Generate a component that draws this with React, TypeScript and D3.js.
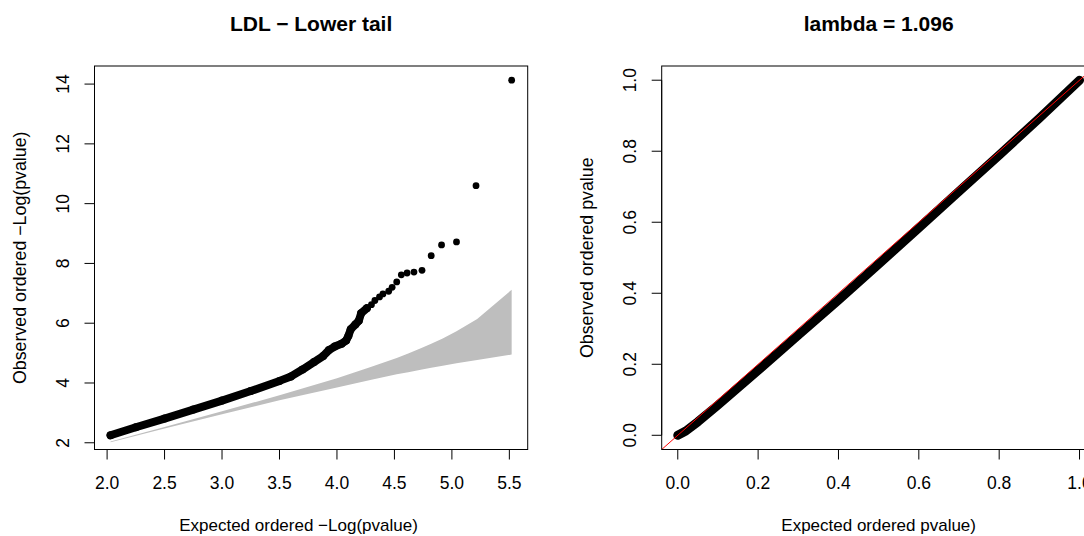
import React from "react";
import * as d3 from "d3";

// ---------- Left panel: LDL lower tail QQ (-log10 p) ----------
// dense part of observed points (drawn as a ribbon of overlapping dots)
const ldlDenseX = [2.03, 2.25, 2.5, 2.75, 3.0, 3.25, 3.5, 3.6, 3.7, 3.8, 3.88, 3.93, 3.98, 4.04, 4.08, 4.1, 4.12, 4.16, 4.19, 4.21, 4.26];
const ldlDenseY = [2.25, 2.52, 2.81, 3.11, 3.41, 3.73, 4.07, 4.22, 4.45, 4.7, 4.9, 5.1, 5.22, 5.31, 5.42, 5.58, 5.8, 5.96, 6.08, 6.33, 6.5];
// sparse observed points in the tail
const ldlTailX = [4.3, 4.33, 4.37, 4.4, 4.45, 4.48, 4.52, 4.56, 4.61, 4.67, 4.74, 4.82, 4.91, 5.04, 5.21, 5.52];
const ldlTailY = [6.62, 6.76, 6.88, 6.98, 7.07, 7.2, 7.38, 7.62, 7.68, 7.71, 7.77, 8.26, 8.62, 8.72, 10.6, 14.13];
// grey confidence band
const ciX = [2.03, 2.5, 3.0, 3.5, 4.0, 4.3, 4.52, 4.62, 4.74, 4.82, 4.92, 5.04, 5.22, 5.52];
const ciUpper = [2.046, 2.527, 3.052, 3.59, 4.16, 4.54, 4.84, 4.99, 5.18, 5.31, 5.49, 5.73, 6.14, 7.12];
const ciLower = [2.015, 2.474, 2.955, 3.42, 3.85, 4.11, 4.29, 4.36, 4.45, 4.51, 4.58, 4.66, 4.77, 4.95];
const ldlXTicks = [2.0, 2.5, 3.0, 3.5, 4.0, 4.5, 5.0, 5.5];
const ldlYTicks = [2, 4, 6, 8, 10, 12, 14];

// ---------- Right panel: p-value QQ ----------
const pExpected = [0, 0.02, 0.05, 0.1, 0.2, 0.3, 0.4, 0.5, 0.6, 0.7, 0.8, 0.9, 1.0];
const pObserved = [0, 0.012, 0.038, 0.085, 0.183, 0.282, 0.381, 0.482, 0.584, 0.687, 0.789, 0.893, 1.0];
const pTicks = [0, 0.2, 0.4, 0.6, 0.8, 1.0];

const leftTitle = "LDL \u2212 Lower tail";
const rightTitle = "lambda = 1.096";
const leftXLab = "Expected ordered \u2212Log(pvalue)";
const leftYLab = "Observed ordered \u2212Log(pvalue)";
const rightXLab = "Expected ordered pvalue)";
const rightYLab = "Observed ordered pvalue";

const FONT = "'Liberation Sans', Arial, Helvetica, sans-serif";
const W = 1084;
const H = 536;

function rRange(vals: number[]): [number, number] {
  const mn = d3.min(vals) as number;
  const mx = d3.max(vals) as number;
  const r = mx - mn;
  return [mn - 0.04 * r, mx + 0.04 * r];
}

type Box = { x0: number; x1: number; y0: number; y1: number };

function Axes({ box, xs, ys, xTicks, yTicks, xFmt, yFmt }: any) {
  const b: Box = box;
  return (
    <g>
      <rect x={b.x0} y={b.y0} width={b.x1 - b.x0} height={b.y1 - b.y0} fill="none" stroke="#000" strokeWidth={1} />
      {xTicks.map((t: number) => (
        <g key={"x" + t}>
          <line x1={xs(t)} x2={xs(t)} y1={b.y1} y2={b.y1 + 10} stroke="#000" />
          <text x={xs(t)} y={b.y1 + 33.5} dy="0.35em" textAnchor="middle" fontSize={17.5} fontFamily={FONT}>
            {xFmt(t)}
          </text>
        </g>
      ))}
      <line x1={xs(xTicks[0])} x2={xs(xTicks[xTicks.length - 1])} y1={b.y1} y2={b.y1} stroke="#000" />
      {yTicks.map((t: number) => (
        <g key={"y" + t}>
          <line x1={b.x0 - 10} x2={b.x0} y1={ys(t)} y2={ys(t)} stroke="#000" />
          <text
            transform={`translate(${b.x0 - 31.7},${ys(t)}) rotate(-90)`}
            dy="0.35em"
            textAnchor="middle"
            fontSize={17.5}
            fontFamily={FONT}
          >
            {yFmt(t)}
          </text>
        </g>
      ))}
      <line x1={b.x0} x2={b.x0} y1={ys(yTicks[0])} y2={ys(yTicks[yTicks.length - 1])} stroke="#000" />
    </g>
  );
}

export default function App() {
  const top = 66;
  const bottom = 449.5;
  const LB: Box = { x0: 94.5, x1: 527.7, y0: top, y1: bottom };
  const RB: Box = { x0: 661.7, x1: 1095.6, y0: top, y1: bottom };

  // left scales
  const lxs = d3.scaleLinear().domain(rRange([...ldlDenseX, ...ldlTailX])).range([LB.x0, LB.x1]);
  const lys = d3.scaleLinear().domain(rRange([...ldlDenseY, ...ldlTailY])).range([LB.y1, LB.y0]);
  // right scales
  const rxs = d3.scaleLinear().domain(rRange(pExpected)).range([RB.x0, RB.x1]);
  const rys = d3.scaleLinear().domain(rRange(pObserved)).range([RB.y1, RB.y0]);

  const area = d3
    .area<number>()
    .x((_, i) => lxs(ciX[i]))
    .y0((_, i) => lys(ciLower[i]))
    .y1((_, i) => lys(ciUpper[i]));
  const ldlLine = d3
    .line<number>()
    .x((_, i) => lxs(ldlDenseX[i]))
    .y((_, i) => lys(ldlDenseY[i]));
  const pLine = d3
    .line<number>()
    .x((_, i) => rxs(pExpected[i]))
    .y((_, i) => rys(pObserved[i]));

  const [rdx0, rdx1] = rxs.domain();

  return (
    <svg width={W} height={H} style={{ position: "absolute", left: 0, top: 0, background: "#fff" }}>
      <defs>
        <clipPath id="clipL">
          <rect x={LB.x0} y={LB.y0} width={LB.x1 - LB.x0} height={LB.y1 - LB.y0} />
        </clipPath>
        <clipPath id="clipR">
          <rect x={RB.x0} y={RB.y0} width={RB.x1 - RB.x0} height={RB.y1 - RB.y0} />
        </clipPath>
      </defs>
      <rect x={0} y={0} width={W} height={H} fill="#fff" />

      {/* Left panel */}
      <g clipPath="url(#clipL)">
        <path d={area(ciX) || ""} fill="#BEBEBE" stroke="none" />
        <path d={ldlLine(ldlDenseX) || ""} fill="none" stroke="#000" strokeWidth={8} strokeLinecap="round" strokeLinejoin="round" />
        {ldlDenseX.map((x, i) => (
          <circle key={"d" + i} cx={lxs(x)} cy={lys(ldlDenseY[i])} r={4} fill="#000" />
        ))}
        {ldlTailX.map((x, i) => (
          <circle key={i} cx={lxs(x)} cy={lys(ldlTailY[i])} r={3.4} fill="#000" />
        ))}
      </g>
      <Axes box={LB} xs={lxs} ys={lys} xTicks={ldlXTicks} yTicks={ldlYTicks} xFmt={d3.format(".1f")} yFmt={d3.format("d")} />
      <text x={(LB.x0 + LB.x1) / 2} y={23.3} dy="0.35em" textAnchor="middle" fontSize={21} fontWeight="bold" fontFamily={FONT}>
        {leftTitle}
      </text>
      <text x={298.5} y={526} dy="0.3em" textAnchor="middle" fontSize={17} fontFamily={FONT}>
        {leftXLab}
      </text>
      <text transform={`translate(20,${(LB.y0 + LB.y1) / 2}) rotate(-90)`} dy="0.35em" textAnchor="middle" fontSize={17.8} fontFamily={FONT}>
        {leftYLab}
      </text>

      {/* Right panel */}
      <g clipPath="url(#clipR)">
        <path d={pLine(pExpected) || ""} fill="none" stroke="#000" strokeWidth={9} strokeLinecap="round" strokeLinejoin="round" />
        <line x1={rxs(rdx0)} y1={rys(rdx0)} x2={rxs(rdx1)} y2={rys(rdx1)} stroke="#FF0000" strokeWidth={1} />
      </g>
      <Axes box={RB} xs={rxs} ys={rys} xTicks={pTicks} yTicks={pTicks} xFmt={d3.format(".1f")} yFmt={d3.format(".1f")} />
      <text x={(RB.x0 + RB.x1) / 2} y={23.3} dy="0.35em" textAnchor="middle" fontSize={21} fontWeight="bold" fontFamily={FONT}>
        {rightTitle}
      </text>
      <text x={(RB.x0 + RB.x1) / 2} y={526} dy="0.3em" textAnchor="middle" fontSize={17} fontFamily={FONT}>
        {rightXLab}
      </text>
      <text transform={`translate(587,${(RB.y0 + RB.y1) / 2}) rotate(-90)`} dy="0.35em" textAnchor="middle" fontSize={17.8} fontFamily={FONT}>
        {rightYLab}
      </text>
    </svg>
  );
}
